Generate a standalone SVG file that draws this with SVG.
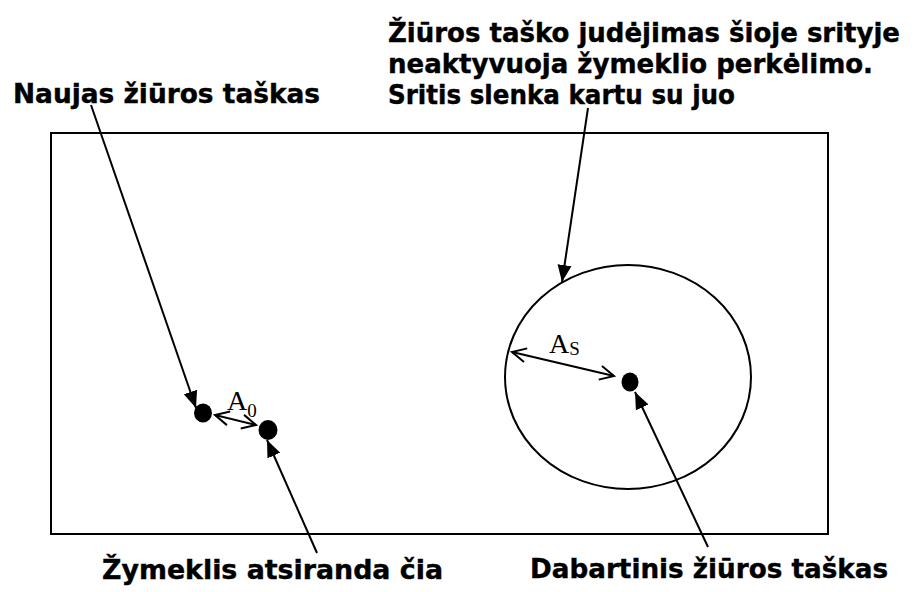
<svg xmlns="http://www.w3.org/2000/svg" width="916" height="592" viewBox="0 0 916 592">
<style>
.lbl{font-family:"DejaVu Sans",Verdana,sans-serif;font-weight:bold;font-size:26px;fill:#000;stroke:#000;stroke-width:0.4}
.sym{font-family:"Liberation Serif","Times New Roman",serif;fill:#000}
.ln{stroke:#000;stroke-width:2;fill:none}
.dot{fill:#000}
</style>
<defs>
<marker id="fa" markerUnits="userSpaceOnUse" markerWidth="20" markerHeight="16" refX="17" refY="8" orient="auto">
<path d="M0,1 L17,8 L0,15 Z" fill="#000"/>
</marker>
<marker id="oa" markerUnits="userSpaceOnUse" markerWidth="18" markerHeight="18" refX="15" refY="9" orient="auto-start-reverse">
<path d="M1,2 L15,9 L1,16" fill="none" stroke="#000" stroke-width="2"/>
</marker>
</defs>
<rect id="frame" x="51" y="133" width="777" height="401" class="ln"/>
<ellipse id="region" cx="628" cy="377" rx="123" ry="112" class="ln"/>
<g id="new-gaze"><ellipse cx="203" cy="413" rx="9" ry="9.5" class="dot"/></g>
<g id="cursor"><ellipse cx="268" cy="430" rx="9.5" ry="10" class="dot"/></g>
<g id="current-gaze"><ellipse cx="630" cy="382" rx="8.5" ry="9.5" class="dot"/></g>
<g id="connectors">
<line x1="91" y1="105" x2="196" y2="408" class="ln" marker-end="url(#fa)"/>
<line x1="588" y1="108" x2="562" y2="282" class="ln" marker-end="url(#fa)"/>
<line x1="317" y1="553" x2="267" y2="440" class="ln" marker-end="url(#fa)"/>
<line x1="708" y1="547" x2="635" y2="392" class="ln" marker-end="url(#fa)"/>
<line x1="512" y1="352" x2="614" y2="376" class="ln" marker-start="url(#oa)" marker-end="url(#oa)"/>
<line x1="215" y1="415" x2="256" y2="425" class="ln" marker-start="url(#oa)" marker-end="url(#oa)"/>
</g>
<g id="labels">
<text class="sym" x="549" y="353" font-size="28">A<tspan font-size="19" dy="2">S</tspan></text>
<text class="sym" x="227" y="410" font-size="28">A<tspan font-size="19" dy="7">0</tspan></text>
<text class="lbl" x="13" y="103" textLength="307" lengthAdjust="spacingAndGlyphs">Naujas žiūros taškas</text>
<text class="lbl" x="388" y="42" textLength="512" lengthAdjust="spacingAndGlyphs">Žiūros taško judėjimas šioje srityje</text>
<text class="lbl" x="388" y="73" textLength="485" lengthAdjust="spacingAndGlyphs">neaktyvuoja žymeklio perkėlimo.</text>
<text class="lbl" x="388" y="104" textLength="347" lengthAdjust="spacingAndGlyphs">Sritis slenka kartu su juo</text>
<text class="lbl" x="102" y="579" textLength="341" lengthAdjust="spacingAndGlyphs">Žymeklis atsiranda čia</text>
<text class="lbl" x="530" y="578" textLength="358" lengthAdjust="spacingAndGlyphs">Dabartinis žiūros taškas</text>
</g>
</svg>
